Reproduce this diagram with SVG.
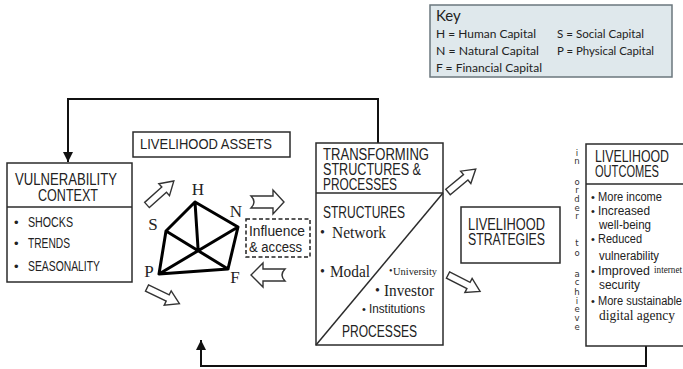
<svg xmlns="http://www.w3.org/2000/svg" width="683" height="369" viewBox="0 0 683 369">
<style>
.box{fill:#fff;stroke:#2b2b2b;stroke-width:1.5}
.ln{fill:none;stroke:#2b2b2b;stroke-width:1.5}
.fb{fill:none;stroke:#111;stroke-width:2}
.ha{fill:#fff;stroke:#333;stroke-width:1.4;stroke-linejoin:miter}
.pent{fill:none;stroke:#000;stroke-width:3;stroke-linejoin:round;stroke-linecap:round}
.t{font-family:"Liberation Sans",Arial,sans-serif;fill:#222}
.sf{font-family:"Liberation Serif","Times New Roman",serif;fill:#222}
.vt{font-family:"DejaVu Sans",sans-serif;font-size:8.5px;fill:#333;text-anchor:middle}
.k{font-family:"Lato","Liberation Sans",sans-serif;font-size:11.5px;fill:#222}
</style>
<defs>
<marker id="ah" viewBox="0 0 10 10" refX="10" refY="5" markerWidth="10" markerHeight="10" markerUnits="userSpaceOnUse" orient="auto"><path d="M0,0 L10,5 L0,10 Z" fill="#111"/></marker>
<path id="blk" d="M0,-3.5 L23,-3.5 L23,-8 L36,0 L23,8 L23,3.5 L0,3.5 Z"/>
</defs>

<g id="key">
<rect x="430" y="5" width="242" height="72" fill="#dfe8ec" stroke="#6b777d" stroke-width="1.5"/>
<text class="k" x="436" y="21" style="font-size:15px">Key</text>
<text class="k" x="436" y="38" textLength="100" lengthAdjust="spacingAndGlyphs">H = Human Capital</text>
<text class="k" x="436" y="55" textLength="103" lengthAdjust="spacingAndGlyphs">N = Natural Capital</text>
<text class="k" x="436" y="72" textLength="106" lengthAdjust="spacingAndGlyphs">F = Financial Capital</text>
<text class="k" x="557" y="38" textLength="87" lengthAdjust="spacingAndGlyphs">S = Social Capital</text>
<text class="k" x="557" y="55" textLength="97" lengthAdjust="spacingAndGlyphs">P = Physical Capital</text>
</g>

<g id="connectors">
<path class="fb" d="M378,143 V99 H68 V162" marker-end="url(#ah)"/>
<path class="fb" d="M646,346 V366 H201 V340" marker-end="url(#ah)"/>
<use href="#blk" class="ha" transform="translate(147,205) rotate(-41.8)"/>
<use href="#blk" class="ha" transform="translate(147,288) rotate(25.8)" />
<use href="#blk" class="ha" transform="translate(448,192) rotate(-39.6)"/>
<use href="#blk" class="ha" transform="translate(448,275) rotate(27)"/>
<path class="ha" d="M251,196 Q257,202 251,208 L273,208 L273,214 L284,202 L273,190 L273,196 Z"/>
<path class="ha" d="M285,269 Q279,275 285,281 L263,281 L263,287 L251,275 L263,263 L263,269 Z"/>
</g>

<g id="vulnerability">
<rect class="box" x="7" y="163" width="125" height="119"/>
<line class="ln" x1="7" y1="207" x2="132" y2="207"/>
<text class="t" x="15" y="185" font-size="16" textLength="102" lengthAdjust="spacingAndGlyphs">VULNERABILITY</text>
<text class="t" x="38" y="201" font-size="16" textLength="60" lengthAdjust="spacingAndGlyphs">CONTEXT</text>
<text class="t" x="14" y="227" font-size="13">•</text>
<text class="t" x="28" y="227" font-size="14" textLength="45" lengthAdjust="spacingAndGlyphs">SHOCKS</text>
<text class="t" x="14" y="248" font-size="13">•</text>
<text class="t" x="28" y="248" font-size="14" textLength="42" lengthAdjust="spacingAndGlyphs">TRENDS</text>
<text class="t" x="14" y="271" font-size="13">•</text>
<text class="t" x="28" y="271" font-size="14" textLength="72" lengthAdjust="spacingAndGlyphs">SEASONALITY</text>
</g>

<g id="assets">
<rect class="box" x="133" y="132" width="157" height="25"/>
<text class="t" x="140" y="149" font-size="15" textLength="132" lengthAdjust="spacingAndGlyphs">LIVELIHOOD ASSETS</text>
</g>

<g id="pentagon">
<path class="pent" d="M195,202 L238,227 L228,269 L159,274 L166,231 Z M195,202 L198,248 M166,231 L228,269 M159,274 L238,227"/>
<text class="sf" x="198" y="195" font-size="17" text-anchor="middle">H</text>
<text class="sf" x="153" y="230" font-size="17" text-anchor="middle">S</text>
<text class="sf" x="236" y="217" font-size="17" text-anchor="middle">N</text>
<text class="sf" x="149" y="277" font-size="17" text-anchor="middle">P</text>
<text class="sf" x="235" y="283" font-size="17" text-anchor="middle">F</text>
</g>

<g id="influence">
<rect x="246" y="219" width="64" height="38" fill="#fff" stroke="#222" stroke-width="1.5" stroke-dasharray="4,2.5"/>
<text class="t" x="249" y="236" font-size="14" textLength="56" lengthAdjust="spacingAndGlyphs">Influence</text>
<text class="t" x="249" y="252" font-size="14" textLength="53" lengthAdjust="spacingAndGlyphs">&amp; access</text>
</g>

<g id="transforming">
<rect class="box" x="316" y="143" width="127" height="202"/>
<line class="ln" x1="316" y1="193" x2="443" y2="193"/>
<line class="ln" x1="316" y1="345" x2="443" y2="193"/>
<text class="t" x="323" y="160" font-size="16" textLength="106" lengthAdjust="spacingAndGlyphs">TRANSFORMING</text>
<text class="t" x="323" y="175" font-size="16" textLength="98" lengthAdjust="spacingAndGlyphs">STRUCTURES &amp;</text>
<text class="t" x="323" y="190" font-size="16" textLength="74" lengthAdjust="spacingAndGlyphs">PROCESSES</text>
<text class="t" x="323" y="218" font-size="16" textLength="82" lengthAdjust="spacingAndGlyphs">STRUCTURES</text>
<text class="sf" x="320" y="237" font-size="14">•</text>
<text class="sf" x="332" y="238" font-size="16" textLength="54" lengthAdjust="spacingAndGlyphs">Network</text>
<text class="sf" x="320" y="276" font-size="14">•</text>
<text class="sf" x="330" y="277" font-size="16" textLength="40" lengthAdjust="spacingAndGlyphs">Modal</text>
<text class="sf" x="389" y="274" font-size="10">•</text>
<text class="sf" x="393" y="275" font-size="10.5" textLength="44" lengthAdjust="spacingAndGlyphs">University</text>
<text class="sf" x="375" y="295" font-size="14">•</text>
<text class="sf" x="384" y="296" font-size="16" textLength="50" lengthAdjust="spacingAndGlyphs">Investor</text>
<text class="t" x="362" y="313" font-size="11">•</text>
<text class="t" x="369" y="313" font-size="12" textLength="56" lengthAdjust="spacingAndGlyphs">Institutions</text>
<text class="t" x="342" y="337" font-size="16" textLength="75" lengthAdjust="spacingAndGlyphs">PROCESSES</text>
</g>

<g id="strategies">
<rect class="box" x="461" y="207" width="99" height="56"/>
<text class="t" x="468" y="230" font-size="16" textLength="77" lengthAdjust="spacingAndGlyphs">LIVELIHOOD</text>
<text class="t" x="468" y="245" font-size="16" textLength="77" lengthAdjust="spacingAndGlyphs">STRATEGIES</text>
</g>

<g id="in-order-to-achieve">
<text class="vt" x="577" y="156">i</text>
<text class="vt" x="577" y="164">n</text>
<text class="vt" x="577" y="185">o</text>
<text class="vt" x="577" y="193">r</text>
<text class="vt" x="577" y="202">d</text>
<text class="vt" x="577" y="211">e</text>
<text class="vt" x="577" y="219">r</text>
<text class="vt" x="577" y="246">t</text>
<text class="vt" x="577" y="256">o</text>
<text class="vt" x="577" y="277">a</text>
<text class="vt" x="577" y="285">c</text>
<text class="vt" x="577" y="295">h</text>
<text class="vt" x="577" y="304">i</text>
<text class="vt" x="577" y="312">e</text>
<text class="vt" x="577" y="321">v</text>
<text class="vt" x="577" y="330">e</text>
</g>

<g id="outcomes">
<rect class="box" x="586" y="144" width="110" height="202"/>
<line class="ln" x1="586" y1="184" x2="683" y2="184"/>
<text class="t" x="595" y="162" font-size="16" textLength="74" lengthAdjust="spacingAndGlyphs">LIVELIHOOD</text>
<text class="t" x="595" y="177" font-size="16" textLength="64" lengthAdjust="spacingAndGlyphs">OUTCOMES</text>
<text class="t" x="591" y="201" font-size="11">•</text>
<text class="t" x="598" y="201" font-size="12" textLength="64" lengthAdjust="spacingAndGlyphs">More income</text>
<text class="t" x="591" y="215" font-size="11">•</text>
<text class="t" x="598" y="215" font-size="12" textLength="52" lengthAdjust="spacingAndGlyphs">Increased</text>
<text class="t" x="599" y="229" font-size="12" textLength="52" lengthAdjust="spacingAndGlyphs">well-being</text>
<text class="t" x="591" y="243" font-size="11">•</text>
<text class="t" x="598" y="243" font-size="12" textLength="44" lengthAdjust="spacingAndGlyphs">Reduced</text>
<text class="t" x="599" y="260" font-size="12" textLength="60" lengthAdjust="spacingAndGlyphs">vulnerability</text>
<text class="t" x="591" y="275" font-size="11">•</text>
<text class="t" x="598" y="275" font-size="12" textLength="52" lengthAdjust="spacingAndGlyphs">Improved</text>
<text class="sf" x="654" y="273" font-size="10" textLength="28" lengthAdjust="spacingAndGlyphs">internet</text>
<text class="t" x="599" y="289" font-size="12" textLength="41" lengthAdjust="spacingAndGlyphs">security</text>
<text class="t" x="591" y="305" font-size="11">•</text>
<text class="t" x="598" y="305" font-size="12" textLength="84" lengthAdjust="spacingAndGlyphs">More sustainable</text>
<text class="sf" x="599" y="320" font-size="14" textLength="76" lengthAdjust="spacingAndGlyphs">digital agency</text>
</g>
</svg>
